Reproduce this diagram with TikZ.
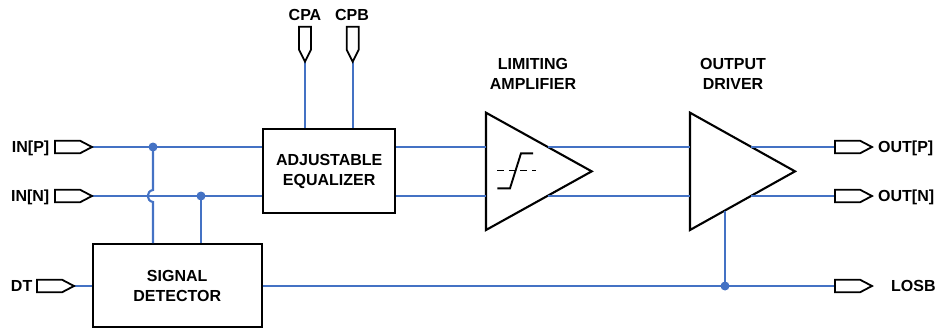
\documentclass[tikz,border=0pt]{standalone}
\usepackage{fontspec}
\setmainfont{Liberation Sans}
\newfontfamily\lblfont{Liberation Sans Bold}
\definecolor{wireblue}{RGB}{68,114,196}
\tikzset{
 blk/.style={draw=black, line width=2.1pt, fill=white},
 wire/.style={draw=wireblue, line width=2.1pt},
 lbl/.style={font=\fontsize{16}{20}\lblfont, inner sep=0pt, align=center},
 jdot/.style={circle, fill=wireblue, inner sep=0pt, minimum size=9pt},
 pinline/.style={draw=black, line width=1.8pt, fill=white, line join=miter},
 pinR/.pic={\path[pinline] (0,-6.3) -- (25,-6.3) -- (37,0) -- (25,6.3) -- (0,6.3) -- cycle;},
 pinD/.pic={\path[pinline] (-6,0) -- (6,0) -- (6,23) -- (0,35) -- (-6,23) -- cycle;},
}
\begin{document}
\begin{tikzpicture}[x=1pt,y=-1pt]
\useasboundingbox (0,0) rectangle (936,329);
% pin coordinates
\coordinate (inP) at (92,147);
\coordinate (inN) at (92,196);
\coordinate (dtT) at (74,286);
\coordinate (cpaT) at (305,61.7);
\coordinate (cpbT) at (352.7,61.7);
\coordinate (outP) at (835,147);
\coordinate (outN) at (835,196);
\coordinate (losb) at (835,286);
% blocks
\node[blk, lbl, minimum width=131.7pt, minimum height=84pt] (eq) at (329.2,171.3) {ADJUSTABLE\\EQUALIZER};
\node[blk, lbl, minimum width=169pt, minimum height=82.7pt] (sd) at (177.2,285.5) {SIGNAL\\DETECTOR};
% limiting amplifier triangle
\coordinate (laT) at (486,112.7);
\coordinate (laB) at (486,230);
\coordinate (laP) at (591.7,171.35);
\draw[blk] (laT) -- (laP) -- (laB) -- cycle;
\coordinate (la1) at (486,147);
\coordinate (la2) at (486,196);
\coordinate (la3) at (547.8,147);
\coordinate (la4) at (547.8,196);
% output driver triangle
\coordinate (odT) at (690,112.7);
\coordinate (odB) at (690,230);
\coordinate (odP) at (795,171.35);
\draw[blk] (odT) -- (odP) -- (odB) -- cycle;
\coordinate (od1) at (690,147);
\coordinate (od2) at (690,196);
\coordinate (od3) at (751.4,147);
\coordinate (od4) at (751.4,196);
\coordinate (od5) at (725,210.5);
% limiter symbol
\draw[black, line width=1.9pt] (497.3,188.3) -- (510,188.3) -- (521,153.3) -- (533,153.3);
\draw[black, line width=1.9pt, dash pattern=on 6.7pt off 4.8pt] (497.3,170.5) -- (536,170.5);
% junction dots
\node[jdot] (d1) at (153,147) {};
\node[jdot] (d2) at (201,196) {};
\node[jdot] (d3) at (725,286) {};
\coordinate (hopA) at (153,190);
\coordinate (hopB) at (153,202);
% wires
\draw[wire] (inP) -- (eq.west |- inP);
\draw[wire] (inN) -- (eq.west |- inN);
\draw[wire] (d1.center) -- (hopA) .. controls +(-7,1) and +(-7,-1) .. (hopB) -- (hopB |- sd.north);
\draw[wire] (d2.center) -- (d2 |- sd.north);
\draw[wire] (dtT) -- (sd.west |- dtT);
\draw[wire] (sd.east |- dtT) -- (losb);
\draw[wire] (cpaT) -- (cpaT |- eq.north);
\draw[wire] (cpbT) -- (cpbT |- eq.north);
\draw[wire] (eq.east |- inP) -- (la1);
\draw[wire] (eq.east |- inN) -- (la2);
\draw[wire] (la3) -- (od1);
\draw[wire] (la4) -- (od2);
\draw[wire] (od3) -- (outP);
\draw[wire] (od4) -- (outN);
\draw[wire] (od5) -- (d3.center);
% pins
\pic at (55,147) {pinR};
\pic at (55,196) {pinR};
\pic at (37,286) {pinR};
\pic at (835,147) {pinR};
\pic at (835,196) {pinR};
\pic at (835,286) {pinR};
\pic at (305,26.7) {pinD};
\pic at (352.7,26.7) {pinD};
% labels
\node[lbl, anchor=base east] (linp) at (49.5,152.7) {IN[P]};
\node[lbl, anchor=base east] (linn) at (49.5,201.7) {IN[N]};
\node[lbl, anchor=base east] (ldt) at (32.5,291.7) {DT};
\node[lbl, anchor=base] (lcpa) at (305,20.4) {CPA};
\node[lbl, anchor=base] (lcpb) at (352,20.4) {CPB};
\node[lbl, anchor=base west] (loutp) at (878,152.7) {OUT[P]};
\node[lbl, anchor=base west] (loutn) at (878,201.7) {OUT[N]};
\node[lbl, anchor=base west] (llosb) at (891,291.7) {LOSB};
\node[lbl] (lla) at (533,74) {LIMITING\\AMPLIFIER};
\node[lbl] (lod) at (733,74) {OUTPUT\\DRIVER};
\end{tikzpicture}
\end{document}
